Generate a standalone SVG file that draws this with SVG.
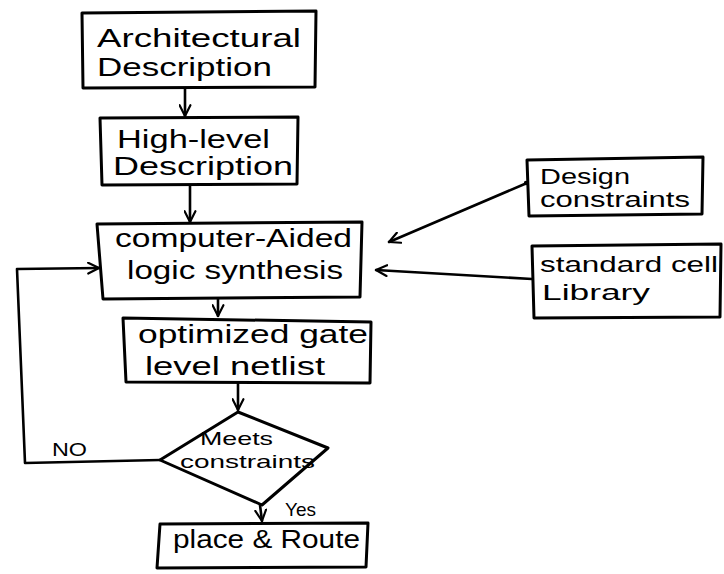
<svg xmlns="http://www.w3.org/2000/svg" width="724" height="574" viewBox="0 0 724 574">
  <defs>
    <style>
      .box { fill: #fff; stroke: #000; stroke-width: 3; stroke-linejoin: round; }
      .wire { fill: none; stroke: #000; stroke-width: 2.6; stroke-linecap: round; stroke-linejoin: round; }
      .lbl { font-family: "Liberation Sans", "DejaVu Sans", sans-serif; font-size: 25px; fill: #000; }
      .mid { font-family: "Liberation Sans", "DejaVu Sans", sans-serif; font-size: 22px; fill: #000; }
      .small { font-family: "Liberation Sans", "DejaVu Sans", sans-serif; font-size: 19px; fill: #000; }
    </style>
    <marker id="head" viewBox="0 0 12 12" refX="11" refY="6" markerWidth="13" markerHeight="13" markerUnits="userSpaceOnUse" orient="auto">
      <path d="M1 1 L11 6 L1 11" fill="none" stroke="#000" stroke-width="2" stroke-linecap="round" stroke-linejoin="round"/>
    </marker>
  </defs>
  <rect width="724" height="574" fill="#fff"/>

  <!-- connectors -->
  <g id="connectors">
    <path class="wire" d="M185 87 L185 116" marker-end="url(#head)"/>
    <path class="wire" d="M190 185 L190 222" marker-end="url(#head)"/>
    <path class="wire" d="M218 298 L218 316" marker-end="url(#head)"/>
    <path class="wire" d="M238 383 L238 410" marker-end="url(#head)"/>
    <path class="wire" d="M260 505 L262 521" marker-end="url(#head)"/>
    <path class="wire" d="M160 460 L25 463 L17 269 L99 268" marker-end="url(#head)"/>
    <path class="wire" d="M527 183 L389 242" marker-end="url(#head)"/>
    <circle cx="526" cy="183" r="2.2" fill="#000"/>
    <path class="wire" d="M532 279 L376 270" marker-end="url(#head)"/>
    <text class="small" x="52" y="456" textLength="35" lengthAdjust="spacingAndGlyphs">NO</text>
    <text class="small" x="285" y="516" textLength="31" lengthAdjust="spacingAndGlyphs">Yes</text>
  </g>

  <g id="architectural">
    <path class="box" d="M82 13 L316 11 L315 87 L83 88 Z"/>
    <text class="lbl" x="97" y="47" textLength="204" lengthAdjust="spacingAndGlyphs">Architectural</text>
    <text class="lbl" x="97" y="76" textLength="175" lengthAdjust="spacingAndGlyphs">Description</text>
  </g>

  <g id="high-level">
    <path class="box" d="M100 118 L298 117 L297 184 L102 185 Z"/>
    <text class="lbl" x="117" y="148" textLength="153" lengthAdjust="spacingAndGlyphs">High-level</text>
    <text class="lbl" x="113" y="175" textLength="180" lengthAdjust="spacingAndGlyphs">Description</text>
  </g>

  <g id="synthesis">
    <path class="box" d="M97 224 L362 222 L360 297 L103 299 Z"/>
    <text class="lbl" x="115" y="247" textLength="237" lengthAdjust="spacingAndGlyphs">computer-Aided</text>
    <text class="lbl" x="127" y="279" textLength="216" lengthAdjust="spacingAndGlyphs">logic synthesis</text>
  </g>

  <g id="netlist">
    <path class="box" d="M123 318 L371 322 L370 383 L126 382 Z"/>
    <text class="lbl" x="138" y="343" textLength="230" lengthAdjust="spacingAndGlyphs">optimized gate</text>
    <text class="lbl" x="145" y="375" textLength="180" lengthAdjust="spacingAndGlyphs">level netlist</text>
  </g>

  <g id="check">
    <path class="box" d="M238 412 L328 448 L262 505 L160 460 Z"/>
    <text class="small" x="200" y="445" textLength="73" lengthAdjust="spacingAndGlyphs">Meets</text>
    <text class="small" x="180" y="468" textLength="135" lengthAdjust="spacingAndGlyphs">constraints</text>
  </g>

  <g id="place-route">
    <path class="box" d="M160 524 L368 523 L366 567 L157 568 Z"/>
    <text class="lbl" x="173" y="548" textLength="187" lengthAdjust="spacingAndGlyphs">place &amp; Route</text>
  </g>

  <g id="design-constraints">
    <path class="box" d="M527 160 L703 157 L702 214 L529 216 Z"/>
    <text class="mid" x="540" y="184" textLength="90" lengthAdjust="spacingAndGlyphs">Design</text>
    <text class="mid" x="540" y="207" textLength="150" lengthAdjust="spacingAndGlyphs">constraints</text>
  </g>

  <g id="cell-library">
    <path class="box" d="M532 246 L721 244 L720 317 L534 318 Z"/>
    <text class="mid" x="540" y="272" textLength="178" lengthAdjust="spacingAndGlyphs">standard cell</text>
    <text class="mid" x="542" y="300" textLength="108" lengthAdjust="spacingAndGlyphs">Library</text>
  </g>
</svg>
